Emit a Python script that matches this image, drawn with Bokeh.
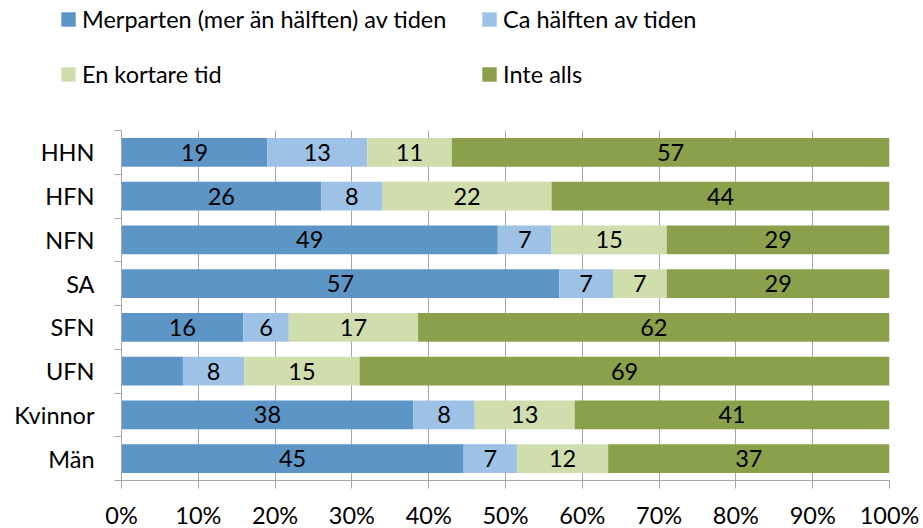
from bokeh.plotting import figure
from bokeh.models import ColumnDataSource, Range1d, FixedTicker, Legend, LegendItem
from bokeh.layouts import column
from bokeh.core.properties import value
from bokeh.embed import file_html
from bokeh.resources import INLINE

# ---- data ----
categories = ["HHN", "HFN", "NFN", "SA", "SFN", "UFN", "Kvinnor", "Män"]
series_names = ["Merparten (mer än hälften) av tiden", "Ca hälften av tiden",
                "En kortare tid", "Inte alls"]
merparten = [19, 26, 49, 57, 16, 8, 38, 45]
ca_halften = [13, 8, 7, 7, 6, 8, 8, 7]
kortare_tid = [11, 22, 15, 7, 17, 15, 13, 12]
inte_alls = [57, 44, 29, 29, 62, 69, 41, 37]
hidden_labels = [("UFN", 0)]  # data label not shown in the original
x_ticks = [0, 10, 20, 30, 40, 50, 60, 70, 80, 90, 100]
x_tick_labels = ["0%", "10%", "20%", "30%", "40%", "50%", "60%", "70%", "80%", "90%", "100%"]
colors = ["#5E95C7", "#9EC2E6", "#D0DEAE", "#8AA04B"]
legend_order = [0, 2, 1, 3]  # column-major order giving rows: (0,1), (2,3)

FONT = "Lato"
FS = "23.5px"

series = [merparten, ca_halften, kortare_tid, inte_alls]
n = len(categories)
ypos = [n - 0.5 - i for i in range(n)]
totals = [sum(s[i] for s in series) for i in range(n)]

LEG_H = 100

p = figure(frame_width=768, frame_height=350,
           min_border_left=121, min_border_top=130 - LEG_H, min_border_right=34, min_border_bottom=48,
           x_range=Range1d(0, 100), y_range=Range1d(0, n),
           output_backend="svg", toolbar_location=None)
p.outline_line_color = None
p.background_fill_color = "white"
p.border_fill_color = "white"

renderers = []
lefts = [0.0] * n
for k, s in enumerate(series):
    pct = [s[i] / totals[i] * 100 for i in range(n)]
    rights = [lefts[i] + pct[i] for i in range(n)]
    mids = [(lefts[i] + rights[i]) / 2 for i in range(n)]
    labels = ["" if (categories[i], k) in hidden_labels else str(s[i]) for i in range(n)]
    src = ColumnDataSource(dict(y=ypos, left=lefts, right=rights, mid=mids, label=labels))
    r = p.hbar(y="y", left="left", right="right", height=0.66, source=src,
               fill_color=colors[k], line_color=None)
    renderers.append(r)
    p.text(x="mid", y="y", text="label", source=src, text_font=value(FONT),
           text_font_size=FS, text_align="center", text_baseline="middle",
           text_color="black")
    lefts = rights

# x axis
xa = p.xaxis[0]
xa.ticker = FixedTicker(ticks=x_ticks)
xa.major_label_overrides = {t: l for t, l in zip(x_ticks, x_tick_labels)}
xa.major_label_text_font = FONT
xa.major_label_text_font_size = FS
xa.major_label_text_color = "black"
xa.axis_line_color = "#A6A6A6"
xa.major_tick_line_color = "#A6A6A6"
xa.major_tick_out = 8
xa.major_tick_in = 0
xa.minor_tick_line_color = None
xa.major_label_standoff = 12

# y axis: labels at centres, ticks at boundaries
ya = p.yaxis[0]
ya.ticker = FixedTicker(ticks=ypos, minor_ticks=list(range(n + 1)))
ya.major_label_overrides = {y: c for y, c in zip(ypos, categories)}
ya.major_label_text_font = FONT
ya.major_label_text_font_size = FS
ya.major_label_text_color = "black"
ya.axis_line_color = "#A6A6A6"
ya.major_tick_out = 0
ya.major_tick_in = 0
ya.minor_tick_out = 7
ya.minor_tick_in = 0
ya.minor_tick_line_color = "#A6A6A6"
ya.major_label_standoff = 20

p.xgrid.grid_line_color = "#A6A6A6"
p.ygrid.grid_line_color = None

# legend figure (top), shifted left so the legend can start left of the plot frame
pl = figure(width=923, height=LEG_H, min_border=0, x_axis_location=None, y_axis_location=None,
            x_range=Range1d(0, 1), y_range=Range1d(0, 1),
            output_backend="svg", toolbar_location=None)
pl.margin = (0, 0, 0, -60)
pl.outline_line_color = None
pl.grid.visible = False
pl.background_fill_color = "white"
pl.border_fill_color = None
leg_renderers = [pl.hbar(y=[0], left=[0], right=[0], height=0, fill_color=c, line_color=None)
                 for c in colors]
legend = Legend(items=[LegendItem(label=series_names[k], renderers=[leg_renderers[k]]) for k in legend_order],
                ncols=2, location=(-2, 12), border_line_color=None,
                background_fill_alpha=0, padding=0, margin=0, spacing=27,
                glyph_width=18, glyph_height=18, label_standoff=5, label_width=371,
                label_text_font=FONT, label_text_font_size=FS, label_text_color="black",
                label_height=18)
pl.add_layout(legend, "center")

open("out.html", "w").write(file_html(column(pl, p), INLINE))
